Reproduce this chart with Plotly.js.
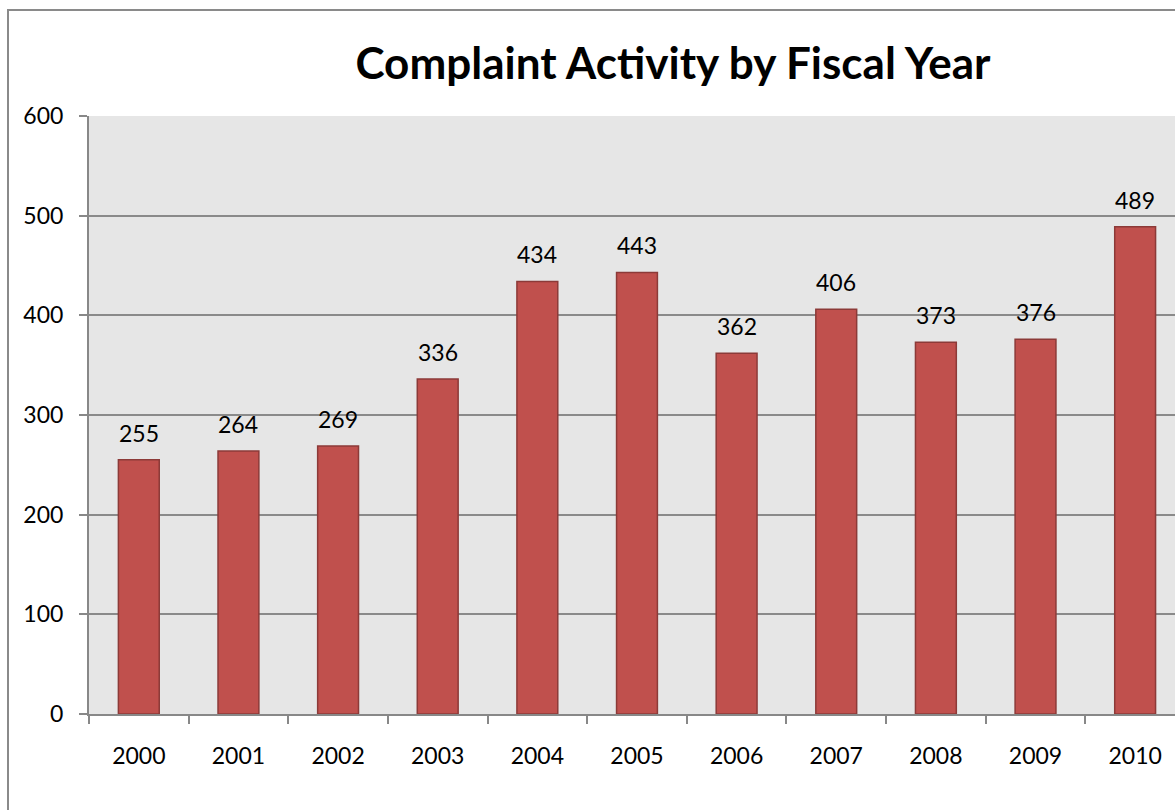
<!DOCTYPE html>
<html>
<head>
<meta charset="utf-8">
<script src="https://cdn.plot.ly/plotly-3.0.1.min.js"></script>
<style>
  html, body { margin: 0; padding: 0; background: #ffffff; overflow: hidden; }
  #frame { position: absolute; left: 7px; top: 9px; width: 1300px; height: 900px;
           border-left: 2px solid #8a8a8a; border-top: 2px solid #8a8a8a; }
  #chart { position: absolute; left: 0; top: 0; width: 1175px; height: 810px; }
</style>
</head>
<body>
<div id="frame"></div>
<div id="chart"></div>
<script>
const years = ["2000","2001","2002","2003","2004","2005","2006","2007","2008","2009","2010"];
const complaints = [255, 264, 269, 336, 434, 443, 362, 406, 373, 376, 489];
const yTicks = [0, 100, 200, 300, 400, 500, 600];

const FONT = "Lato, 'Open Sans', 'DejaVu Sans', sans-serif";

const trace = {
  type: "bar",
  x: years,
  y: complaints,
  marker: { color: "#c0504d", line: { color: "#8c3a38", width: 1.5 } },
  hoverinfo: "x+y"
};

const annotations = years.map((yr, i) => ({
  x: i, y: complaints[i], xref: "x", yref: "y",
  text: String(complaints[i]), showarrow: false,
  yanchor: "bottom", yshift: 11,
  font: { family: FONT, size: 23, color: "#000000" }
}));

const layout = {
  width: 1175, height: 810,
  margin: { l: 89, r: 0, t: 116, b: 96, pad: 0 },
  paper_bgcolor: "rgba(0,0,0,0)",
  plot_bgcolor: "#e6e6e6",
  bargap: 0.59,
  showlegend: false,
  title: {
    text: "<b>Complaint Activity by Fiscal Year</b>",
    font: { family: FONT, size: 44, color: "#000000" },
    x: 673/1175, xanchor: "center", xref: "container",
    y: 1 - 64/810, yanchor: "middle", yref: "container"
  },
  xaxis: {
    type: "category",
    range: [-0.5, 10.4],
    showgrid: false,
    showline: true, linecolor: "#888888", linewidth: 2,
    ticks: "outside", tickson: "boundaries", ticklen: 8, tickwidth: 2, tickcolor: "#888888",
    ticklabelstandoff: 20,
    tickfont: { family: FONT, size: 23, color: "#000000" },
    fixedrange: true
  },
  yaxis: {
    range: [0, 600],
    tickvals: yTicks,
    ticktext: yTicks.map(String),
    showgrid: true, gridcolor: "#8a8a8a", gridwidth: 2,
    zeroline: false,
    showline: true, linecolor: "#888888", linewidth: 2,
    ticks: "outside", ticklen: 8, tickwidth: 2, tickcolor: "#888888",
    ticklabelstandoff: 11,
    tickfont: { family: FONT, size: 23, color: "#000000" },
    fixedrange: true
  },
  annotations: annotations
};

Plotly.newPlot("chart", [trace], layout, { displayModeBar: false, staticPlot: true });
</script>
</body>
</html>
